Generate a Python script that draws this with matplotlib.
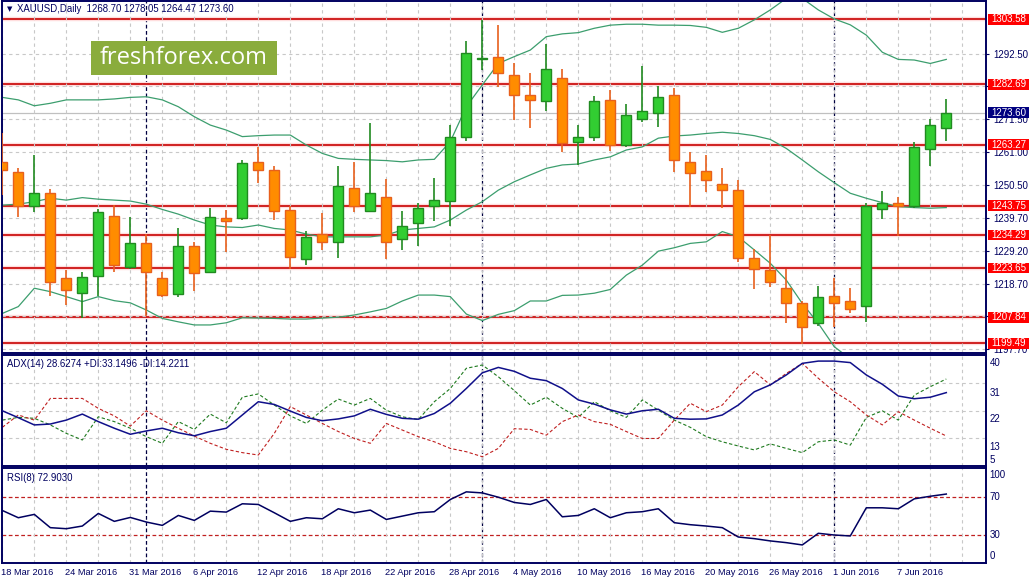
import numpy as np
import pandas as pd
import matplotlib
matplotlib.use('Agg')
import matplotlib.pyplot as plt
from matplotlib.patches import Rectangle

plt.rcParams['font.family'] = ['Liberation Sans', 'DejaVu Sans']

W, H = 1031, 579

# trading days shown (Good Friday has no bar)
dates = pd.bdate_range('2016-03-18', '2016-06-10')
dates = dates[dates != pd.Timestamp('2016-03-25')]

opens = [1257.8, 1254.4, 1243.7, 1247.7, 1220.4, 1215.6, 1221.1, 1240.5, 1223.9, 1231.8,
         1220.6, 1215.3, 1230.7, 1222.3, 1239.75, 1239.7, 1257.6, 1255.1, 1242.3, 1226.5,
         1234.5, 1231.9, 1249.3, 1242.1, 1246.4, 1232.9, 1238.1, 1243.7, 1245.3, 1265.9,
         1290.8, 1291.4, 1285.6, 1279.2, 1277.2, 1284.6, 1264.1, 1265.7, 1277.6, 1263.1,
         1271.5, 1273.4, 1279.2, 1257.6, 1254.8, 1250.6, 1248.7, 1226.8, 1223.0, 1217.2,
         1212.4, 1205.9, 1214.8, 1213.2, 1211.6, 1242.6, 1244.7, 1243.7, 1261.8, 1268.70]
highs = [1266.96, 1255.7, 1260.0, 1249.1, 1223.1, 1222.5, 1242.6, 1243.9, 1240.2, 1234.6,
         1222.5, 1236.6, 1232.0, 1242.9, 1242.3, 1258.4, 1262.5, 1256.6, 1243.7, 1235.6,
         1241.5, 1256.5, 1257.7, 1270.2, 1252.3, 1242.0, 1244.5, 1252.7, 1269.6, 1296.6,
         1303.4, 1301.7, 1289.6, 1286.4, 1295.6, 1287.5, 1269.5, 1278.9, 1280.9, 1276.3,
         1288.6, 1282.2, 1281.4, 1260.9, 1259.9, 1255.8, 1251.9, 1229.7, 1234.3, 1223.3,
         1213.1, 1217.9, 1220.4, 1217.2, 1244.5, 1248.4, 1246.4, 1264.1, 1271.6, 1278.05]
lows = [1247.2, 1240.2, 1241.8, 1214.8, 1211.8, 1207.5, 1214.8, 1222.5, 1223.3, 1208.4,
        1214.3, 1214.3, 1216.4, 1222.3, 1228.9, 1239.2, 1250.9, 1239.1, 1223.4, 1224.7,
        1229.5, 1227.0, 1241.8, 1241.6, 1226.6, 1229.5, 1230.9, 1238.9, 1237.3, 1264.6,
        1287.3, 1281.9, 1271.2, 1268.6, 1274.2, 1261.0, 1256.7, 1264.6, 1261.4, 1262.7,
        1270.7, 1268.9, 1254.6, 1243.4, 1248.2, 1242.9, 1225.7, 1216.9, 1217.7, 1206.1,
        1199.3, 1205.2, 1204.6, 1209.3, 1206.4, 1239.4, 1234.1, 1242.9, 1256.6, 1264.47]
closes = [1255.2, 1243.6, 1247.7, 1219.3, 1216.6, 1220.9, 1241.8, 1224.7, 1231.8, 1222.3,
          1215.0, 1230.9, 1222.0, 1240.2, 1238.7, 1257.3, 1255.1, 1242.1, 1227.3, 1233.5,
          1231.9, 1250.0, 1243.7, 1247.8, 1232.1, 1237.3, 1242.9, 1245.4, 1265.7, 1292.7,
          1291.1, 1286.2, 1279.2, 1277.6, 1287.5, 1263.7, 1265.7, 1277.2, 1263.3, 1272.7,
          1274.0, 1278.5, 1258.3, 1254.1, 1251.9, 1248.7, 1226.8, 1223.4, 1219.3, 1212.4,
          1204.6, 1214.5, 1212.4, 1210.4, 1243.7, 1244.7, 1243.6, 1262.5, 1269.6, 1273.60]

bb_upper = [1278.5, 1277.7, 1275.8, 1276.6, 1277.7, 1277.7, 1277.7, 1278.0, 1278.5, 1278.7,
            1277.7, 1275.5, 1272.3, 1269.6, 1268.0, 1265.9, 1266.2, 1266.4, 1266.4, 1263.2,
            1260.5, 1258.9, 1258.6, 1258.4, 1258.2, 1257.8, 1258.4, 1258.6, 1264.3, 1275.5,
            1282.5, 1289.4, 1291.6, 1293.7, 1298.0, 1298.9, 1299.3, 1300.7, 1301.7, 1302.0,
            1302.0, 1301.7, 1301.7, 1301.6, 1301.0, 1299.4, 1300.7, 1303.4, 1306.6, 1310.3,
            1310.3, 1306.6, 1303.7, 1301.8, 1298.5, 1293.0, 1290.7, 1290.5, 1289.4, 1290.7]
bb_mid = [1243.9, 1244.2, 1245.0, 1246.1, 1245.5, 1246.3, 1245.8, 1245.5, 1245.2, 1244.2,
          1242.5, 1241.0, 1239.1, 1237.5, 1236.9, 1236.7, 1237.5, 1236.4, 1235.9, 1234.6,
          1233.7, 1233.7, 1233.7, 1233.7, 1234.3, 1235.9, 1236.4, 1236.9, 1239.1, 1242.3,
          1245.0, 1248.7, 1251.4, 1253.6, 1255.7, 1256.8, 1257.1, 1258.4, 1259.4, 1261.6,
          1262.6, 1265.4, 1266.1, 1266.4, 1266.9, 1267.3, 1266.9, 1266.2, 1265.0, 1262.1,
          1258.4, 1254.6, 1251.1, 1247.7, 1246.1, 1244.7, 1243.4, 1243.1, 1242.9, 1243.1]
bb_lower = [1209.1, 1211.3, 1217.2, 1216.1, 1214.5, 1212.9, 1214.5, 1213.2, 1212.5, 1210.2,
            1207.5, 1206.4, 1205.4, 1205.4, 1206.1, 1207.7, 1207.6, 1207.5, 1207.3, 1207.3,
            1207.6, 1207.9, 1208.6, 1209.6, 1210.7, 1213.1, 1215.0, 1215.0, 1214.5, 1208.9,
            1206.8, 1208.8, 1210.0, 1213.1, 1213.1, 1214.9, 1215.0, 1215.6, 1216.8, 1221.4,
            1224.6, 1229.1, 1230.2, 1231.6, 1232.1, 1235.4, 1233.7, 1229.5, 1225.2, 1219.8,
            1212.3, 1205.9, 1198.4, 1194.5, 1193.6, 1195.5, 1196.0, 1195.2, 1195.9, 1195.5]

adx = [22.6, 20.3, 17.9, 18.2, 19.5, 21.5, 19.0, 16.8, 14.8, 15.9,
       16.8, 15.3, 14.3, 15.7, 16.8, 21.2, 25.6, 24.7, 22.5, 20.4,
       19.3, 19.9, 20.9, 23.1, 21.4, 20.1, 19.8, 21.7, 25.1, 30.0,
       35.2, 37.0, 35.7, 33.4, 32.6, 30.0, 26.2, 24.8, 22.9, 21.5,
       22.6, 23.1, 20.1, 19.8, 19.9, 21.2, 24.5, 28.9, 31.2, 34.5,
       38.35, 39.1, 39.1, 38.6, 34.5, 31.4, 27.5, 26.6, 27.1, 28.63]
plus_di = [19.5, 20.4, 20.1, 17.9, 15.1, 12.9, 20.6, 19.0, 16.8, 14.0,
           11.8, 19.0, 16.4, 21.5, 18.6, 27.1, 28.2, 24.5, 20.9, 18.4,
           22.8, 26.5, 24.5, 26.7, 22.8, 20.6, 19.7, 25.6, 30.0, 36.7,
           37.8, 33.9, 29.3, 24.5, 27.1, 23.4, 20.4, 25.6, 22.6, 20.4,
           26.2, 22.8, 19.5, 17.1, 14.0, 12.3, 10.9, 9.6, 11.6, 10.1,
           8.7, 12.3, 12.9, 11.2, 20.4, 22.6, 19.5, 27.8, 30.6, 33.15]
minus_di = [17.1, 21.2, 19.5, 26.7, 26.7, 26.7, 23.4, 20.9, 17.5, 22.6,
            19.5, 16.8, 14.2, 11.8, 9.8, 8.7, 7.9, 15.1, 24.0, 21.2,
            18.4, 15.7, 13.4, 11.8, 18.4, 16.2, 14.0, 12.3, 10.1, 9.0,
            7.35, 10.1, 16.65, 16.4, 14.5, 19.0, 21.2, 19.0, 18.1, 15.7,
            13.4, 13.4, 19.5, 25.1, 22.3, 24.5, 30.6, 35.6, 31.2, 35.0,
            38.35, 33.4, 28.9, 25.6, 21.2, 17.9, 22.3, 19.5, 16.8, 14.22]
rsi = [55.7, 48.1, 51.6, 37.7, 36.6, 39.4, 52.6, 44.3, 48.4, 43.6,
       40.1, 50.5, 45.3, 55.0, 54.0, 62.7, 62.0, 53.3, 44.3, 48.1,
       47.0, 57.5, 53.3, 56.1, 46.3, 49.8, 53.3, 54.4, 67.2, 75.2,
       74.1, 69.6, 64.1, 62.0, 67.2, 49.1, 50.5, 57.5, 48.1, 53.3,
       54.4, 57.5, 42.9, 40.8, 39.4, 37.7, 27.9, 26.2, 23.8, 22.0,
       19.6, 31.8, 30.0, 29.0, 58.5, 58.5, 57.5, 67.9, 70.6, 72.9]

levels = [1303.58, 1282.69, 1263.27, 1243.75, 1234.29, 1223.65, 1207.84, 1199.49]
last_price = 1273.60
price_ticks = [1197.70, 1208.20, 1218.70, 1229.20, 1239.70, 1250.50,
               1261.00, 1271.50, 1282.00, 1292.50]
# labels hidden under the level boxes in the original are left blank
price_labels = ['1197.70', '', '1218.70', '1229.20', '1239.70', '1250.50',
                '1261.00', '1271.50', '1282.00', '1292.50']

navy = '#000060'
grid_c = '#c8c8c8'

x = np.arange(len(dates))
o = np.array(opens); c = np.array(closes)
month_starts = [i for i in range(1, len(dates)) if dates[i].month != dates[i - 1].month]


def add_ax(l, t, r, b):
    return fig.add_axes([l / W, 1 - b / H, (r - l) / W, (b - t) / H])


def setup(ax):
    ax.set_xlim(-0.02, 61.45)
    for s in ax.spines.values():
        s.set_color(navy)
        s.set_linewidth(1.4)
    ax.set_xticks(np.arange(0, 62, 2))
    ax.tick_params(axis='x', length=0, labelbottom=False)
    ax.tick_params(axis='y', left=False, labelleft=False)
    ax.grid(axis='x', color=grid_c, ls=(0, (3, 3)), lw=0.8)
    for m in month_starts:
        ax.axvline(m, color='#000040', ls=(0, (3, 2)), lw=0.9, zorder=1.2)


fig = plt.figure(figsize=(W / 100, H / 100), dpi=100)
ax = add_ax(2, 1, 985.5, 353)
ax_adx = add_ax(2, 355, 985.5, 466)
ax_rsi = add_ax(2, 467.7, 985.5, 562.7)
for a in (ax, ax_adx, ax_rsi):
    setup(a)

# ---- price panel
ax.set_ylim(1196.39, 1309.46)
ax.set_yticks(price_ticks)
ax.set_yticklabels(price_labels)
ax.tick_params(axis='y', right=True, labelright=True, length=2.2, width=0.8,
               color=navy, pad=3.2, labelsize=7, labelcolor=navy)
ax.grid(axis='y', color=grid_c, ls=(0, (3, 3)), lw=0.8)
ax.axhline(last_price, color='#c0c0c0', lw=0.9, zorder=1.1)

for lv in levels:
    ax.axhline(lv, color='#ffdede', lw=3.2, zorder=1.3)
    ax.axhline(lv, color='#c80000', lw=1.2, zorder=1.4)

for band in (bb_upper, bb_mid, bb_lower):
    ax.plot(x, band, color='#3c9e6e', lw=0.9, zorder=2)

up = c >= o
wick_c = np.where(up, '#208a20', '#e8601c')
body_c = np.where(up, '#32cd32', '#ff8c00')
ax.vlines(x, lows, highs, colors=wick_c, lw=1.2, zorder=3)
ax.bar(x, np.maximum(np.abs(c - o), 0.35), bottom=np.minimum(o, c), width=0.62,
       color=body_c, edgecolor=wick_c, linewidth=1.0, zorder=4)

ytr = ax.get_yaxis_transform()
box_w = 41 / 983.5
box_h = 10.6 / 3.113


def price_box(v, fc):
    ax.add_patch(Rectangle((1 + 2.6 / 983.5, v - box_h / 2), box_w, box_h,
                           transform=ytr, fc=fc, ec='none', clip_on=False, zorder=6))
    ax.annotate('%.2f' % v, xy=(1, v), xycoords=ytr, xytext=(5.5, 0),
                textcoords='offset pixels', ha='left', va='center', fontsize=7,
                color='white', annotation_clip=False, zorder=7)


for lv in levels:
    price_box(lv, '#ff0000')
price_box(last_price, '#000080')

# ---- ADX panel
ax_adx.set_ylim(4.26, 41.12)
ax_adx.set_yticks([13.45, 22.5, 31.7])
ax_adx.tick_params(axis='y', right=False, labelright=False)
ax_adx.grid(axis='y', color=grid_c, ls=(0, (3, 3)), lw=0.8)
ax_adx.plot(x, plus_di, color='#1e7a1e', lw=0.8, ls=(0, (3, 2)), zorder=2)
ax_adx.plot(x, minus_di, color='#c02020', lw=0.8, ls=(0, (3, 2)), zorder=2)
ax_adx.plot(x, adx, color='#10108a', lw=1.1, zorder=3)
for val, txt in zip([38.6, 28.6, 19.8, 10.6, 6.2], ['40', '31', '22', '13', '5']):
    ax_adx.annotate(txt, xy=(1, val), xycoords=ax_adx.get_yaxis_transform(),
                    xytext=(4, 0), textcoords='offset pixels', ha='left', va='center',
                    fontsize=7, color=navy, annotation_clip=False)

# ---- RSI panel
ax_rsi.set_ylim(1, 100.5)
ax_rsi.set_yticks([])
for lv in (70, 30):
    ax_rsi.axhline(lv, color='#c02020', lw=0.9, ls=(0, (3, 2)), zorder=1.5)
ax_rsi.plot(x, rsi, color='#000060', lw=1.1, zorder=3)
for val, txt in zip([93, 70, 30, 7.5], ['100', '70', '30', '0']):
    ax_rsi.annotate(txt, xy=(1, val), xycoords=ax_rsi.get_yaxis_transform(),
                    xytext=(4, 0), textcoords='offset pixels', ha='left', va='center',
                    fontsize=7, color=navy, annotation_clip=False)

# date labels, every 4th bar, left aligned at the bar
for i in range(0, len(dates), 4):
    d = dates[i]
    ax_rsi.annotate('%d %s %d' % (d.day, d.strftime('%b'), d.year), xy=(i, 0),
                    xycoords=ax_rsi.get_xaxis_transform(), xytext=(-1, -9.5),
                    textcoords='offset pixels', ha='left', va='center', fontsize=6.7,
                    color=navy, annotation_clip=False)

# ---- texts
fig.text(7 / W, 1 - 9.5 / H, '\u25bc', fontsize=5, color=navy, va='center',
         family='DejaVu Sans')
fig.text(17 / W, 1 - 9.5 / H, 'XAUUSD,Daily  1268.70 1278.05 1264.47 1273.60',
         fontsize=6.9, color=navy, va='center')
fig.text(7 / W, 1 - 364 / H, 'ADX(14) 28.6274 +DI:33.1496 -DI:14.2211',
         fontsize=6.9, color=navy, va='center')
fig.text(7 / W, 1 - 478 / H, 'RSI(8) 72.9030', fontsize=6.9, color=navy, va='center')

# watermark
fig.patches.append(Rectangle((91 / W, 1 - 74.5 / H), 186 / W, 33.5 / H,
                             transform=fig.transFigure, fc='#8aac3c', ec='none'))
fig.text(184 / W, 1 - 58 / H, 'freshforex.com', fontsize=17, color='white',
         ha='center', va='center', family=['Open Sans', 'DejaVu Sans'])

fig.savefig('out.png', dpi=100)
